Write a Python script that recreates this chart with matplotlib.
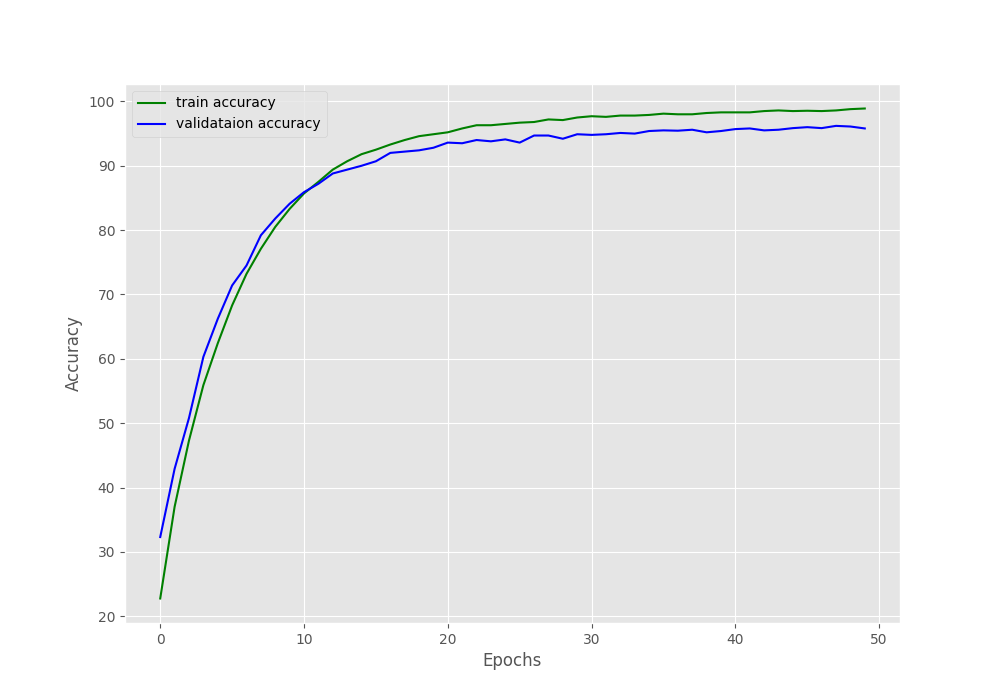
import matplotlib
matplotlib.use('Agg')
import matplotlib.pyplot as plt

plt.style.use('ggplot')

# accuracy per epoch
train_acc = [22.75, 37.0, 47.3, 55.9, 62.4, 68.3, 73.2, 77.1, 80.5, 83.3,
             85.7, 87.5, 89.4, 90.7, 91.8, 92.5, 93.3, 94.0, 94.6, 94.9,
             95.2, 95.8, 96.3, 96.3, 96.5, 96.7, 96.8, 97.2, 97.1, 97.5,
             97.7, 97.6, 97.8, 97.8, 97.9, 98.1, 98.0, 98.0, 98.2, 98.3,
             98.3, 98.3, 98.5, 98.6, 98.5, 98.55, 98.5, 98.6, 98.8, 98.9]
val_acc = [32.3, 42.9, 50.8, 60.3, 66.2, 71.4, 74.5, 79.2, 81.8, 84.1,
           85.9, 87.2, 88.8, 89.4, 90.0, 90.7, 92.0, 92.2, 92.4, 92.8,
           93.6, 93.5, 94.0, 93.8, 94.1, 93.6, 94.7, 94.7, 94.2, 94.9,
           94.8, 94.9, 95.1, 95.0, 95.4, 95.5, 95.45, 95.6, 95.2, 95.4,
           95.7, 95.8, 95.5, 95.6, 95.85, 96.0, 95.85, 96.2, 96.1, 95.8]

fig = plt.figure(figsize=(10, 7), dpi=100)
plt.plot(train_acc, color='green', label='train accuracy')
plt.plot(val_acc, color='blue', label='validataion accuracy')
plt.xlabel('Epochs')
plt.ylabel('Accuracy')
plt.legend()
plt.savefig('out.png')
